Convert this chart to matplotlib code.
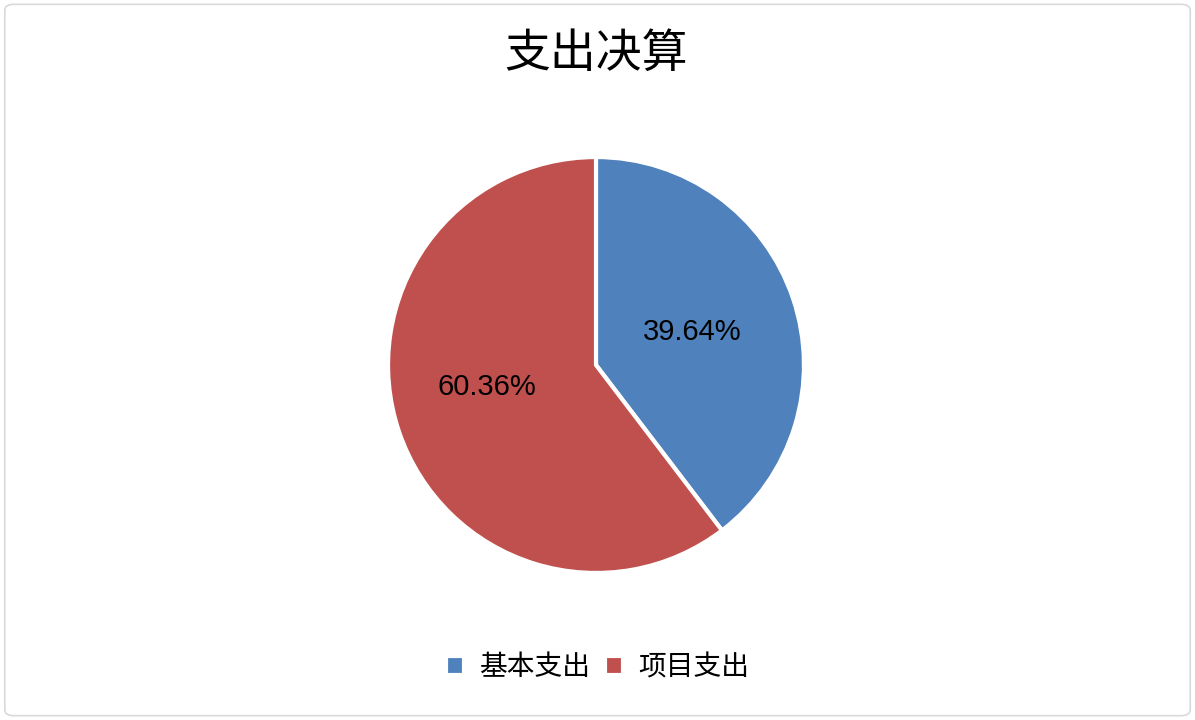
import matplotlib.pyplot as plt
from matplotlib.patches import FancyBboxPatch

plt.rcParams['font.family'] = ['Noto Sans CJK SC', 'DejaVu Sans']

labels = ['基本支出', '项目支出']
shares = [39.64, 60.36]
colors = ['#4F81BD', '#C0504D']

fig = plt.figure(figsize=(11.95, 7.2), dpi=100)

# light frame around the chart area
fig.patches.append(FancyBboxPatch((0.004, 0.006), 0.992, 0.988,
                                  boxstyle='round,pad=0,rounding_size=0.008',
                                  transform=fig.transFigure, fill=False,
                                  edgecolor='#d9d9d9', linewidth=1.2))

ax = fig.add_axes([(596 - 209) / 1195, (720 - 574) / 720, 418 / 1195, 418 / 720])
wedges, texts, autotexts = ax.pie(shares, colors=colors, startangle=90, counterclock=False,
                                  autopct='%.2f%%', pctdistance=0.49,
                                  wedgeprops=dict(edgecolor='white', linewidth=3))
for t in autotexts:
    t.set_fontfamily('Liberation Sans')
    t.set_fontsize(21)
    t.set_color('black')
# nudge the big slice's label a little outward/left like the original
x, y = autotexts[1].get_position()
autotexts[1].set_position((x - 0.06, y + 0.05))
ax.set_xlim(-1.005, 1.005)
ax.set_ylim(-1.005, 1.005)
ax.set_aspect('equal')

fig.text(0.4987, 0.925, '支出决算', ha='center', va='center', fontsize=33)

fig.legend(wedges, labels, loc='center', bbox_to_anchor=(0.5, 0.073), ncol=2,
           frameon=False, fontsize=20, handlelength=0.65, handleheight=0.65,
           handletextpad=0.55, columnspacing=0.55)

fig.savefig('out.png', dpi=100)
